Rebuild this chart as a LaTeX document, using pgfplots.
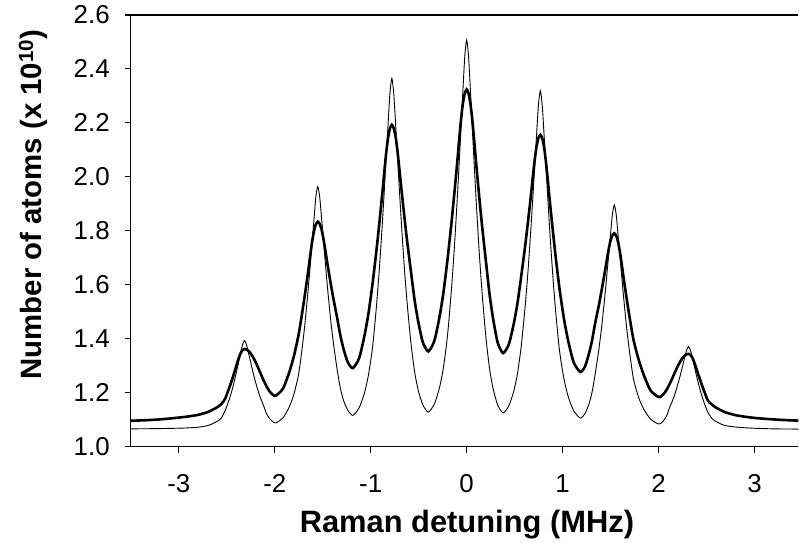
\documentclass[border=0pt]{standalone}
\usepackage{fontspec}
\setmainfont{Liberation Sans}
\usepackage{pgfplots}
\pgfplotsset{compat=1.18}
\begin{document}
\begin{tikzpicture}
\begin{axis}[
  at={(0,0)}, anchor=south west,
  scale only axis, width=668bp, height=432bp,
  xmin=-3.5, xmax=3.458, ymin=1.0, ymax=2.6,
  axis lines=left, axis line style={-, line width=1.2bp},
  xtick={-3,-2,-1,0,1,2,3},
  ytick={1.0,1.2,1.4,1.6,1.8,2.0,2.2,2.4,2.6},
  tick align=outside, major tick length=6bp,
  tick style={line width=1.1bp, black},
  xticklabel={\pgfmathprintnumber[assume math mode=true]{\tick}},
  yticklabel={\pgfmathprintnumber[assume math mode=true,fixed,fixed zerofill,precision=1]{\tick}},
  xticklabel style={font=\fontsize{26}{30}\selectfont, inner sep=0pt, anchor=north, yshift=-22bp},
  yticklabel style={font=\fontsize{26}{30}\selectfont, inner sep=0pt, anchor=east, xshift=-15bp},
  xlabel={\bfseries Raman detuning (MHz)},
  ylabel={\bfseries Number of atoms (x 10\textsuperscript{10})},
  xlabel style={font=\fontsize{31}{36}\selectfont, at={(axis description cs:0.5034,-0.199)}, anchor=base},
  ylabel style={font=\fontsize{29.5}{34}\selectfont, at={(axis description cs:-0.1332,0.561)}, anchor=base},
  clip=true,
]
\addplot[black, line width=0.9bp, smooth, tension=0.4] coordinates {
(-3.5,1.066) (-3.2,1.067) (-2.95,1.069) (-2.8,1.072) (-2.7,1.078) (-2.65,1.085) (-2.6,1.094) (-2.56,1.105)
(-2.516,1.135) (-2.476,1.174) (-2.446,1.209) (-2.416,1.252) (-2.396,1.283) (-2.376,1.315) (-2.356,1.348) (-2.336,1.378)
(-2.316,1.393)
(-2.296,1.379) (-2.276,1.350) (-2.256,1.320) (-2.236,1.289) (-2.216,1.260) (-2.186,1.221) (-2.156,1.187) (-2.116,1.151) (-2.0895,1.125) (-2.063,1.108) (-2.030,1.095) (-1.990,1.088)
(-1.915,1.107) (-1.852,1.145) (-1.802,1.193) (-1.752,1.268) (-1.712,1.373) (-1.682,1.469) (-1.652,1.583) (-1.632,1.666) (-1.612,1.754) (-1.592,1.841) (-1.572,1.925)
(-1.552,1.964)
(-1.532,1.926) (-1.512,1.845) (-1.492,1.761) (-1.472,1.676) (-1.452,1.595) (-1.422,1.485) (-1.392,1.392) (-1.352,1.290) (-1.317,1.218) (-1.283,1.171) (-1.239,1.135) (-1.187,1.116)
(-1.122,1.1435) (-1.067,1.197) (-1.0236,1.266) (-0.98,1.372) (-0.94,1.522) (-0.91,1.659) (-0.88,1.822) (-0.86,1.940) (-0.84,2.065) (-0.82,2.190) (-0.80,2.309)
(-0.78,2.365)
(-0.76,2.309) (-0.74,2.192) (-0.72,2.068) (-0.70,1.944) (-0.68,1.827) (-0.65,1.666) (-0.62,1.530) (-0.58,1.382) (-0.5421,1.276) (-0.5042,1.208) (-0.457,1.155) (-0.40,1.128)
(-0.337,1.158) (-0.284,1.2176) (-0.242,1.2935) (-0.20,1.411) (-0.16,1.576) (-0.13,1.728) (-0.10,1.907) (-0.08,2.038) (-0.06,2.176) (-0.04,2.314) (-0.02,2.445)
(0,2.507)
(0.02,2.445) (0.04,2.3135) (0.06,2.175) (0.08,2.037) (0.10,1.906) (0.13,1.726) (0.16,1.574) (0.20,1.408) (0.2379,1.291) (0.2758,1.215) (0.323,1.155) (0.38,1.125)
(0.439,1.151) (0.489,1.203) (0.5284,1.268) (0.568,1.370) (0.608,1.513) (0.638,1.644) (0.668,1.800) (0.688,1.913) (0.708,2.032) (0.728,2.152) (0.748,2.265)
(0.768,2.319)
(0.788,2.264) (0.808,2.149) (0.828,2.028) (0.848,1.907) (0.868,1.791) (0.898,1.634) (0.928,1.500) (0.968,1.355) (1.0137,1.252) (1.059,1.185) (1.116,1.133) (1.185,1.106)
(1.234,1.123) (1.274,1.157) (1.3066,1.201) (1.339,1.268) (1.379,1.363) (1.409,1.450) (1.439,1.552) (1.459,1.627) (1.479,1.706) (1.499,1.785) (1.519,1.860)
(1.539,1.896)
(1.559,1.8595) (1.579,1.782) (1.599,1.701) (1.619,1.620) (1.639,1.543) (1.669,1.437) (1.699,1.348) (1.739,1.2505) (1.794,1.181) (1.849,1.137) (1.9175,1.102) (2.0,1.084)
(2.036,1.090) (2.065,1.103) (2.089,1.118) (2.113,1.143) (2.153,1.177) (2.183,1.209) (2.213,1.246) (2.233,1.273) (2.253,1.302) (2.273,1.331) (2.293,1.358)
(2.313,1.371)
(2.333,1.357) (2.353,1.328) (2.373,1.298) (2.393,1.267) (2.413,1.238) (2.443,1.199) (2.473,1.165) (2.513,1.1285) (2.56,1.103) (2.60,1.093) (2.65,1.084) (2.70,1.078) (2.80,1.073) (2.95,1.069) (3.2,1.066) (3.5,1.065)
};
\addplot[black, line width=2.6bp, smooth, tension=0.4] coordinates {
(-3.5,1.096) (-3.35,1.098) (-3.2,1.101) (-3.045,1.106) (-2.9,1.112) (-2.8,1.118) (-2.7,1.128) (-2.616,1.143) (-2.576,1.152) (-2.546,1.163)
(-2.516,1.179) (-2.476,1.217) (-2.446,1.248) (-2.416,1.282) (-2.396,1.306) (-2.376,1.328) (-2.356,1.3465) (-2.336,1.358)
(-2.316,1.362)
(-2.2834,1.3578) (-2.2508,1.3456) (-2.2182,1.3264) (-2.1856,1.3023) (-2.153,1.2755) (-2.1204,1.2487) (-2.0878,1.2246) (-2.0552,1.2054) (-2.0226,1.1932) (-1.990,1.189)
(-1.915,1.215) (-1.852,1.273) (-1.802,1.334) (-1.752,1.415) (-1.712,1.502) (-1.682,1.574) (-1.652,1.650) (-1.632,1.705) (-1.612,1.757) (-1.592,1.7985) (-1.572,1.824)
(-1.552,1.834)
(-1.532,1.826) (-1.512,1.804) (-1.492,1.769) (-1.472,1.725) (-1.452,1.679) (-1.422,1.615) (-1.392,1.554) (-1.352,1.481) (-1.317,1.413) (-1.283,1.3615) (-1.239,1.313) (-1.187,1.291)
(-1.122,1.327) (-1.067,1.408) (-1.0236,1.494) (-0.98,1.607) (-0.94,1.7285) (-0.91,1.8295) (-0.88,1.936) (-0.86,2.013) (-0.84,2.085) (-0.82,2.143) (-0.80,2.1795)
(-0.78,2.193)
(-0.76,2.180) (-0.74,2.147) (-0.72,2.092) (-0.70,2.025) (-0.68,1.954) (-0.65,1.8545) (-0.62,1.760) (-0.58,1.647) (-0.5421,1.542) (-0.5042,1.462) (-0.457,1.387) (-0.40,1.353)
(-0.337,1.392) (-0.284,1.479) (-0.242,1.5715) (-0.20,1.693) (-0.16,1.824) (-0.13,1.933) (-0.10,2.047) (-0.08,2.130) (-0.06,2.2075) (-0.04,2.2706) (-0.02,2.309)
(0,2.324)
(0.02,2.309) (0.04,2.270) (0.06,2.207) (0.08,2.129) (0.10,2.046) (0.13,1.930) (0.16,1.821) (0.20,1.689) (0.2379,1.567) (0.2758,1.474) (0.323,1.386) (0.38,1.347)
(0.439,1.379) (0.489,1.452) (0.5284,1.529) (0.568,1.630) (0.608,1.739) (0.638,1.830) (0.668,1.925) (0.688,1.994) (0.708,2.059) (0.728,2.1115) (0.748,2.144)
(0.768,2.156)
(0.788,2.143) (0.808,2.108) (0.828,2.0505) (0.848,1.980) (0.868,1.9055) (0.898,1.802) (0.928,1.703) (0.968,1.585) (1.0137,1.475) (1.059,1.391) (1.116,1.312) (1.185,1.277)
(1.234,1.2976) (1.274,1.344) (1.3066,1.393) (1.339,1.457) (1.379,1.526) (1.409,1.584) (1.439,1.6445) (1.459,1.688) (1.479,1.729) (1.499,1.763) (1.519,1.783)
(1.539,1.791)
(1.559,1.782) (1.579,1.758) (1.599,1.718) (1.619,1.670) (1.639,1.618) (1.669,1.546) (1.699,1.478) (1.739,1.396) (1.794,1.321) (1.849,1.263) (1.9175,1.208) (2.0,1.184)
(2.0313,1.1878) (2.0626,1.1992) (2.0939,1.217) (2.1252,1.2392) (2.1565,1.264) (2.1878,1.2888) (2.2191,1.311) (2.2504,1.3288) (2.2817,1.3402)
(2.313,1.344)
(2.333,1.340) (2.353,1.3295) (2.373,1.312) (2.393,1.291) (2.413,1.269) (2.443,1.238) (2.473,1.208) (2.513,1.172) (2.543,1.160) (2.573,1.151) (2.613,1.142) (2.70,1.127) (2.80,1.117) (2.90,1.111) (3.015,1.106) (3.2,1.101) (3.35,1.098) (3.5,1.096)
};
\draw[line width=1.2bp] (rel axis cs:0,1) -- (rel axis cs:1,1);
\end{axis}
\path[use as bounding box] (-131bp,-95bp) rectangle (668bp,447bp);
\end{tikzpicture}
\end{document}
